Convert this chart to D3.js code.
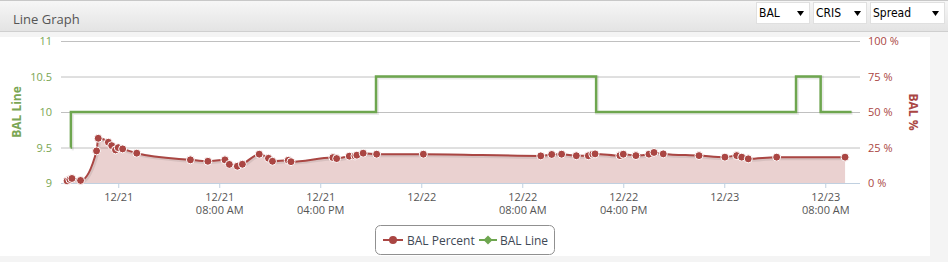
<!DOCTYPE html>
<html>
  <head>
    <meta charset="utf-8">
    <title>Line Graph</title>
    <script src="https://d3js.org/d3.v7.min.js"></script>
    <style>
      body { margin: 0; background: #f4f4f4; }
      svg { display: block; }
    </style>
  </head>
  <body>
    <script>
      // BAL Percent samples (time, %)
      var pctTimes = ["12/20 19:57", "12/20 20:10", "12/20 20:20", "12/20 21:01", "12/20 22:17", "12/20 22:25",
        "12/20 23:13", "12/20 23:29", "12/20 23:47", "12/21 00:00", "12/21 00:21", "12/21 01:28",
        "12/21 05:43", "12/21 07:06", "12/21 08:27", "12/21 08:48", "12/21 09:26", "12/21 09:50",
        "12/21 11:10", "12/21 11:54", "12/21 12:13", "12/21 13:28", "12/21 13:41", "12/21 17:00",
        "12/21 17:18", "12/21 18:18", "12/21 18:45", "12/21 18:54", "12/21 19:24", "12/21 20:28",
        "12/22 00:10", "12/22 09:28", "12/22 10:20", "12/22 11:07", "12/22 12:17", "12/22 13:14",
        "12/22 13:35", "12/22 13:46", "12/22 15:44", "12/22 16:00", "12/22 17:00", "12/22 18:02",
        "12/22 18:26", "12/22 19:10", "12/22 22:00", "12/23 00:03", "12/23 00:59", "12/23 01:23",
        "12/23 01:54", "12/23 04:09", "12/23 09:34"];
      var pctValues = [1.5, 2.5, 3.2, 1.8, 22.6, 31.5,
        28.7, 26.3, 23.3, 24.9, 24, 21,
        16.3, 15.3, 16.3, 13.1, 11.8, 13.2,
        20.3, 17.4, 15.3, 16, 15, 17.9,
        17.2, 18.9, 19.1, 19.6, 21, 20.3,
        20.3, 19.1, 20.1, 20.3, 19.2, 19.2,
        20.3, 20.5, 19.3, 20.3, 19.3, 20.3,
        21.5, 20.5, 19.3, 18.2, 19.3, 18.2,
        17, 18.2, 18.2];

      // BAL Line steps (time, line)
      var lineTimes = ["12/20 20:14", "12/20 20:15", "12/21 20:25", "12/22 13:51", "12/23 05:41", "12/23 07:38", "12/23 10:05"];
      var lineValues = [9.5, 10, 10.5, 10, 10.5, 10, 10];

      var xTicks = ["12/21 00:00", "12/21 08:00", "12/21 16:00", "12/22 00:00", "12/22 08:00", "12/22 16:00", "12/23 00:00", "12/23 08:00"];
      var leftTicks = [9, 9.5, 10, 10.5, 11];
      var rightTicks = [0, 25, 50, 75, 100];
      var xRange = ["12/20 19:28", "12/23 10:45"];

      (function() {
        var parse = d3.timeParse("%m/%d %H:%M");
        var red = "#aa4643", green = "#6ea64f", greenText = "#7aa653";
        var font = "'Open Sans', 'DejaVu Sans', sans-serif";

        var W = 948, H = 262;
        var pLeft = 61, pRight = 860, pTop = 41, pBottom = 183;

        var svg = d3.select("body").append("svg")
          .attr("width", W)
          .attr("height", H)
          .style("font-family", font);

        // panel
        svg.append("rect").attr("x", 0).attr("y", 0).attr("width", 930).attr("height", 256).attr("fill", "#fff");

        var x = d3.scaleTime().domain(xRange.map(parse)).range([pLeft, pRight]);
        var yL = d3.scaleLinear().domain([9, 11]).range([pBottom, pTop]);
        var yR = d3.scaleLinear().domain([0, 100]).range([pBottom, pTop]);

        // left axis + grid
        var gl = svg.append("g")
          .attr("transform", "translate(" + pLeft + ",0)")
          .call(d3.axisLeft(yL).tickValues(leftTicks).tickSize(-(pRight - pLeft)).tickPadding(9)
            .tickFormat(function(d) { return d; }));
        gl.select(".domain").remove();
        gl.selectAll(".tick line").attr("stroke", "#c0c0c0");
        gl.selectAll(".tick text").attr("fill", greenText).style("font-size", "11px").style("font-family", font);

        // right axis
        var gr = svg.append("g")
          .attr("transform", "translate(" + pRight + ",0)")
          .call(d3.axisRight(yR).tickValues(rightTicks).tickSize(0).tickPadding(8)
            .tickFormat(function(d) { return d + " %"; }));
        gr.select(".domain").remove();
        gr.selectAll(".tick text").attr("fill", red).style("font-size", "11px").style("font-family", font);

        // x axis
        var gx = svg.append("g")
          .attr("transform", "translate(0," + pBottom + ")")
          .call(d3.axisBottom(x).tickValues(xTicks.map(parse)).tickSize(5).tickFormat(""));
        gx.select(".domain").attr("stroke", "#c0d0e0").attr("d", "M" + pLeft + ",0.5H" + pRight);
        gx.selectAll(".tick line").attr("stroke", "#c0d0e0");
        gx.selectAll(".tick").each(function(d) {
          var t = d3.select(this).append("text")
            .attr("fill", "#555").attr("text-anchor", "middle")
            .style("font-size", "11px").style("font-family", font);
          t.append("tspan").attr("x", 0).attr("y", 18).text(d3.timeFormat("%m/%d")(d));
          if (d.getHours() !== 0) {
            t.append("tspan").attr("x", 0).attr("y", 31).text(d3.timeFormat("%I:%M %p")(d));
          }
        });

        var pctData = pctTimes.map(function(t, i) { return { t: parse(t), v: pctValues[i] }; });
        var lineData = lineTimes.map(function(t, i) { return { t: parse(t), v: lineValues[i] }; });

        // area
        svg.append("path")
          .datum(pctData)
          .attr("fill", red).attr("fill-opacity", 0.25)
          .attr("d", d3.area().curve(d3.curveMonotoneX)
            .x(function(d) { return x(d.t); })
            .y0(yR(0))
            .y1(function(d) { return yR(d.v); }));

        var pctLine = d3.line().curve(d3.curveMonotoneX)
          .x(function(d) { return x(d.t); })
          .y(function(d) { return yR(d.v); });

        // shadow + line
        svg.append("path").datum(pctData)
          .attr("fill", "none").attr("stroke", "#000").attr("stroke-opacity", 0.08).attr("stroke-width", 4)
          .attr("transform", "translate(1,1)").attr("d", pctLine);
        svg.append("path").datum(pctData)
          .attr("fill", "none").attr("stroke", red).attr("stroke-width", 2).attr("d", pctLine);

        svg.append("g").selectAll("circle")
          .data(pctData)
          .enter().append("circle")
            .attr("cx", function(d) { return x(d.t); })
            .attr("cy", function(d) { return yR(d.v); })
            .attr("r", 4)
            .attr("fill", red)
            .attr("stroke", "#fff")
            .attr("stroke-width", 1);

        // BAL Line step
        var stepLine = d3.line().curve(d3.curveStepAfter)
          .x(function(d) { return x(d.t); })
          .y(function(d) { return yL(d.v); });
        svg.append("path").datum(lineData)
          .attr("fill", "none").attr("stroke", "#000").attr("stroke-opacity", 0.08).attr("stroke-width", 4)
          .attr("transform", "translate(1,1)").attr("d", stepLine);
        svg.append("path").datum(lineData)
          .attr("fill", "none").attr("stroke", green).attr("stroke-width", 2.5).attr("d", stepLine);

        // axis titles
        svg.append("text")
          .attr("transform", "translate(21,112) rotate(-90)")
          .attr("text-anchor", "middle")
          .attr("fill", greenText).style("font-size", "12px").style("font-weight", "bold")
          .text("BAL Line");
        svg.append("text")
          .attr("transform", "translate(909,112) rotate(90)")
          .attr("text-anchor", "middle")
          .attr("fill", red).style("font-size", "12px").style("font-weight", "bold")
          .text("BAL %");

        // legend
        var lg = svg.append("g").attr("transform", "translate(375,225)");
        lg.append("rect").attr("x", 0.5).attr("y", 0.5).attr("width", 179).attr("height", 29).attr("rx", 5)
          .attr("fill", "#fff").attr("stroke", "#909090");
        lg.append("line").attr("x1", 8).attr("x2", 28).attr("y1", 15).attr("y2", 15).attr("stroke", red).attr("stroke-width", 2);
        lg.append("circle").attr("cx", 18).attr("cy", 15).attr("r", 4).attr("fill", red);
        lg.append("text").attr("x", 32).attr("y", 19.5).attr("fill", "#3e4855").style("font-size", "12px").text("BAL Percent");
        lg.append("line").attr("x1", 104).attr("x2", 122).attr("y1", 15).attr("y2", 15).attr("stroke", green).attr("stroke-width", 2);
        lg.append("path").attr("d", "M113,10.5L117.5,15L113,19.5L108.5,15Z").attr("fill", green);
        lg.append("text").attr("x", 125).attr("y", 19.5).attr("fill", "#3e4855").style("font-size", "12px").text("BAL Line");

        // header
        var defs = svg.append("defs");
        var grad = defs.append("linearGradient").attr("id", "hdr").attr("x1", 0).attr("x2", 0).attr("y1", 0).attr("y2", 1);
        grad.append("stop").attr("offset", "0%").attr("stop-color", "#f7f7f7");
        grad.append("stop").attr("offset", "100%").attr("stop-color", "#e3e3e3");
        svg.append("rect").attr("x", 0).attr("y", 0).attr("width", W).attr("height", 32).attr("fill", "url(#hdr)");
        svg.append("line").attr("x1", 0).attr("x2", W).attr("y1", 0.5).attr("y2", 0.5).attr("stroke", "#c8c8c8");
        svg.append("line").attr("x1", 0).attr("x2", W).attr("y1", 31.5).attr("y2", 31.5).attr("stroke", "#cfcfcf");
        svg.append("rect").attr("x", 0).attr("y", 32).attr("width", W).attr("height", 5).attr("fill", "#f4f4f4");
        svg.append("text").attr("x", 13).attr("y", 24)
          .attr("fill", "#555").style("font-family", "'Liberation Sans Narrow', 'Open Sans', sans-serif")
          .style("font-size", "13px")
          .text("Line Graph");

        var selects = [{ label: "BAL", x: 756, w: 53 }, { label: "CRIS", x: 813, w: 53 }, { label: "Spread", x: 870, w: 74 }];
        selects.forEach(function(s) {
          var g = svg.append("g").attr("transform", "translate(" + s.x + ",2)");
          g.append("rect").attr("x", 0.5).attr("y", 0.5).attr("width", s.w).attr("height", 21).attr("fill", "#fff").attr("stroke", "#e0e0e0");
          g.append("text").attr("x", 3).attr("y", 15).attr("fill", "#000")
            .style("font-family", "'Liberation Sans Narrow', 'DejaVu Sans Condensed', sans-serif").style("font-size", "12px")
            .text(s.label);
          g.append("path").attr("d", "M" + (s.w - 12) + ",9h7l-3.5,5z").attr("fill", "#000");
        });
      })();
    </script>
  </body>
</html>
